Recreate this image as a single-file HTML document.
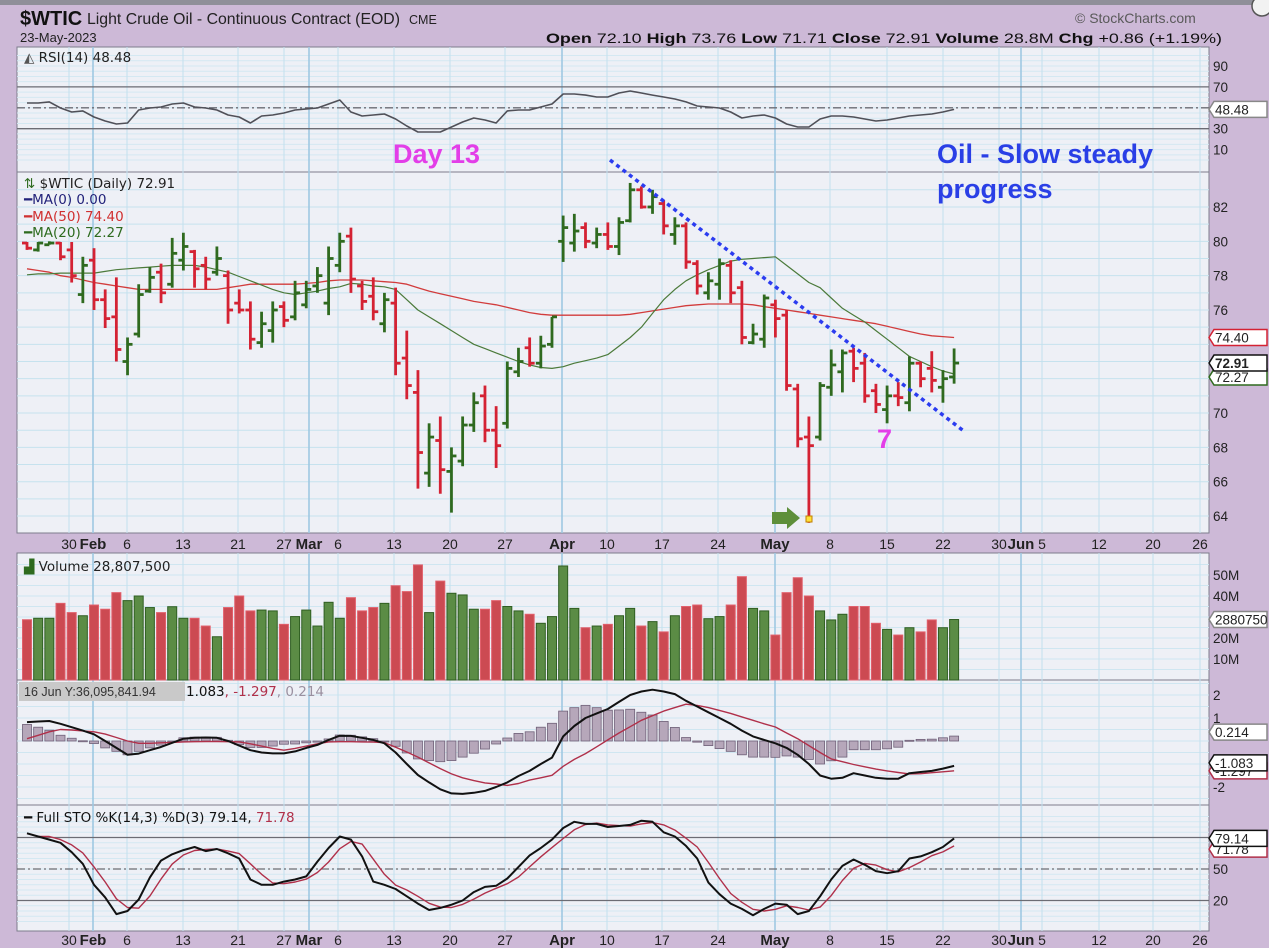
<!DOCTYPE html>
<html><head><meta charset="utf-8"><title>$WTIC chart</title>
<style>
html,body{margin:0;padding:0;background:#cdb9d7;}
svg{display:block;}
text{font-family:"Liberation Sans",sans-serif;}
.lg{font-family:"DejaVu Sans",sans-serif;font-size:13.5px;}
.ax{font-family:"Liberation Sans",sans-serif;font-size:13.5px;fill:#222;}
</style></head>
<body>
<svg id="chart" width="1269" height="948" viewBox="0 0 1269 948" xmlns="http://www.w3.org/2000/svg">
  <rect x="0" y="0" width="1269" height="948" fill="#cdb9d7"/>
  <rect x="0" y="0" width="1269" height="5" fill="#8f8f99"/>
  <circle cx="1262" cy="6" r="10" fill="#f2f2f2" stroke="#555" stroke-width="1.5"/>
  <rect x="17" y="47" width="1192" height="125" fill="#eef0f6" stroke="#7d7d8c"/>
  <rect x="17" y="172" width="1192" height="361" fill="#eef0f6" stroke="#7d7d8c"/>
  <rect x="17" y="553" width="1192" height="127" fill="#eef0f6" stroke="#7d7d8c"/>
  <rect x="17" y="680" width="1192" height="125" fill="#eef0f6" stroke="#7d7d8c"/>
  <rect x="17" y="805" width="1192" height="126" fill="#eef0f6" stroke="#7d7d8c"/>
  <g id="grid"></g>
  <g id="data"></g>
  <g id="axes"></g>

  <text x="20" y="25" font-size="20" font-weight="bold" fill="#111">$WTIC</text>
  <text x="87" y="24" font-size="15.5" fill="#222" textLength="313" lengthAdjust="spacingAndGlyphs">Light Crude Oil - Continuous Contract (EOD)</text>
  <text x="409" y="24" font-size="12.5" fill="#222">CME</text>
  <text x="20" y="42" font-size="13" fill="#222">23-May-2023</text>
  <text x="1075" y="23" font-size="14" fill="#5a5a5a">© StockCharts.com</text>
  <text x="546" y="43" font-size="14" fill="#111" textLength="676" lengthAdjust="spacingAndGlyphs"><tspan font-weight="bold">Open</tspan> 72.10  <tspan font-weight="bold">High</tspan> 73.76  <tspan font-weight="bold">Low</tspan> 71.71  <tspan font-weight="bold">Close</tspan> 72.91  <tspan font-weight="bold">Volume</tspan> 28.8M  <tspan font-weight="bold">Chg</tspan> +0.86 (+1.19%)</text>

  <text class="lg" x="24" y="62" fill="#222"><tspan fill="#555">◭</tspan> RSI(14) 48.48</text>
  <text class="lg" x="24" y="188" fill="#222"><tspan fill="#2e6b1f">⇅</tspan> $WTIC (Daily) 72.91</text>
  <text class="lg" x="24" y="204" fill="#22227a">━MA(0) 0.00</text>
  <text class="lg" x="24" y="221" fill="#d03030">━MA(50) 74.40</text>
  <text class="lg" x="24" y="237" fill="#2e6b1f">━MA(20) 72.27</text>
  <text class="lg" x="24" y="571" fill="#222"><tspan fill="#2e6b1f">▟</tspan> Volume 28,807,500</text>
  <rect x="19" y="682" width="166" height="19" fill="#c9c9c9"/>
  <text x="24" y="696" font-size="12.5" fill="#333">16 Jun Y:36,095,841.94</text>
  <text class="lg" x="186" y="696" fill="#111">1.083<tspan fill="#b0304a">, -1.297</tspan><tspan fill="#9a90a0">, 0.214</tspan></text>
  <text class="lg" x="24" y="822" fill="#111">━ Full STO %K(14,3) %D(3) 79.14, <tspan fill="#b0304a">71.78</tspan></text>

  <text x="393" y="163" font-size="27" font-weight="bold" fill="#e33ee8">Day 13</text>
  <text x="937" y="163" font-size="27" font-weight="bold" fill="#2a3fe6">Oil - Slow steady</text>
  <text x="937" y="198" font-size="27" font-weight="bold" fill="#2a3fe6">progress</text>
  <text x="877" y="448" font-size="27" font-weight="bold" fill="#e33ee8">7</text>
  <line x1="610" y1="160" x2="965" y2="432" stroke="#2b3cf0" stroke-width="3.5" stroke-dasharray="4 4"/>
  <polygon points="772,512 787,512 787,507 800,518 787,529 787,524 772,524" fill="#5e8f3a"/>
  <rect x="806" y="516" width="6" height="6" fill="#ffe03a" stroke="#c08000"/>
</svg>
<script>
const NS='http://www.w3.org/2000/svg';
const hi=[79.96,79.96,80.0,79.96,79.96,79.1,79.6,77.2,77.9,74.4,77.5,78.5,78.7,80.2,80.5,79.5,79.1,79.7,78.3,77.2,76.5,75.9,76.5,76.5,77.7,77.7,78.5,79.7,80.5,80.8,77.7,77.9,77.0,77.3,74.8,72.5,69.4,69.8,68.0,69.8,71.2,71.6,70.4,73.0,73.8,74.4,74.5,75.6,81.5,81.6,81.1,80.8,81.1,81.4,83.4,83.2,83.0,82.4,81.4,81.1,78.9,78.2,79.0,78.9,77.7,75.2,76.9,76.6,76.0,71.7,69.8,71.8,73.7,73.7,73.8,73.5,71.7,71.6,71.8,73.3,73.0,73.6,72.5,73.76];
const lo=[79.5,79.4,79.8,78.9,77.6,76.4,76.0,74.95,73.0,72.2,74.4,77.0,76.4,77.3,78.3,77.3,77.2,78.0,75.2,75.8,73.7,73.8,74.1,75.0,75.4,76.1,77.0,75.7,78.2,77.0,76.0,75.4,74.7,72.2,70.8,65.6,65.7,65.3,64.2,66.9,68.9,68.3,66.8,69.1,72.1,72.7,72.6,73.8,78.8,79.4,79.6,79.6,79.5,79.2,81.1,81.9,81.6,80.4,79.8,78.4,76.9,76.6,76.6,76.4,74.0,74.0,73.8,74.4,71.3,68.0,63.6,68.4,71.0,71.2,71.8,70.6,70.0,69.4,70.4,70.1,71.5,71.2,70.6,71.71];
const op=[79.9,79.5,79.8,79.9,79.5,76.9,78.9,76.6,75.6,73.0,74.6,77.1,78.2,77.5,78.9,79.4,78.6,78.2,78.0,76.4,76.0,74.1,74.8,76.2,75.6,76.3,77.4,76.4,78.6,80.3,77.4,76.8,75.2,76.4,73.2,71.2,66.5,68.4,66.6,67.2,69.3,71.0,69.0,69.4,72.4,73.8,72.9,74.0,80.0,79.9,80.8,79.9,80.4,79.7,81.2,83.0,82.0,82.2,80.4,80.9,78.7,77.0,77.5,78.6,77.3,74.1,74.3,76.3,75.7,71.4,68.6,68.6,71.5,72.4,73.6,72.9,71.3,70.2,71.0,70.6,72.9,72.6,71.5,72.10];
const cl=[79.6,79.9,79.9,79.1,78.0,78.6,76.6,75.5,73.7,74.0,76.9,77.9,77.0,79.3,79.7,78.4,77.8,79.0,76.0,76.0,74.3,75.2,76.0,75.4,77.0,77.2,78.0,79.0,80.0,77.8,76.5,75.9,76.6,72.9,71.6,67.7,68.6,66.7,67.5,69.3,70.6,69.0,68.1,72.6,73.0,72.9,73.9,75.6,80.8,80.6,80.0,80.4,79.7,81.1,83.0,82.0,82.6,80.9,80.9,78.8,77.4,77.7,78.7,77.0,74.4,74.6,76.7,75.5,71.6,68.5,68.1,71.6,72.8,73.5,72.6,71.0,70.5,71.0,70.9,72.9,72.0,71.9,72.0,72.91];
const ma50=[78.4,78.3,78.2,78.0,77.9,77.75,77.6,77.5,77.4,77.3,77.2,77.2,77.2,77.2,77.2,77.2,77.2,77.2,77.3,77.4,77.5,77.5,77.5,77.5,77.5,77.55,77.6,77.7,77.75,77.75,77.75,77.7,77.65,77.6,77.5,77.3,77.1,76.95,76.8,76.65,76.5,76.4,76.3,76.15,76.0,75.85,75.75,75.7,75.7,75.7,75.7,75.7,75.7,75.7,75.75,75.85,75.95,76.05,76.15,76.25,76.3,76.35,76.35,76.35,76.35,76.3,76.2,76.1,76.0,75.9,75.8,75.7,75.6,75.5,75.4,75.3,75.2,75.05,74.9,74.75,74.6,74.5,74.45,74.4];
const ma20=[78.05,78.1,78.1,78.15,78.15,78.15,78.15,78.25,78.35,78.4,78.45,78.5,78.55,78.6,78.6,78.6,78.5,78.35,78.2,77.95,77.7,77.45,77.2,77.0,76.9,77.0,77.1,77.25,77.35,77.55,77.5,77.4,77.35,77.2,76.6,76.0,75.6,75.2,74.8,74.4,74.0,73.75,73.5,73.25,73.0,72.8,72.65,72.6,72.7,72.9,73.05,73.2,73.4,73.9,74.4,75.0,75.8,76.6,77.2,77.7,78.05,78.35,78.6,78.85,78.95,79.0,79.05,79.1,78.6,78.1,77.6,77.3,76.7,76.1,75.7,75.3,74.8,74.3,73.8,73.3,73.0,72.7,72.45,72.27];
const vol=[28.7,29.4,29.4,36.5,32.1,30.6,35.7,33.7,41.6,37.8,40,34.5,32.1,34.9,29.4,29.4,25.7,20.6,34.5,40,32.9,33.3,32.9,26.5,30.2,33.3,25.7,37,29.4,39.2,32.9,34.5,36.5,44.9,42.1,54.8,32.1,47.1,41.3,40.5,33.7,33.7,37.8,35,32.9,31.3,27,30.2,54.3,34.1,24.9,25.7,26.5,30.6,34.1,25.7,27.8,22.9,30.6,35,35.7,29.2,30.2,35.7,49.2,34.1,32.9,21.4,41.6,48.7,40,32.9,28.6,31.3,35,35,27,24.1,21.4,24.9,22.9,28.6,24.9,28.8];
const rsi=[54.6,54.6,55.6,49.8,46,47,41.2,37.4,34.5,35.5,47.9,49.8,50.8,53.6,54.6,50.8,49.8,47.9,43.1,41.2,35.5,42.2,43.1,45,47.9,48.9,49.8,53.6,57.5,46,42.2,43.1,44.1,39.3,32.6,26.8,26.8,26.8,31.6,36.4,40.2,38.3,35.5,47,47.9,47.9,50.8,53.6,63.2,63.2,62.2,60.3,60.3,64.2,66.1,64.2,62.2,60.3,58.4,55.6,51.7,50.8,49.8,46,40.2,42.2,43.1,40.2,34.5,31.6,31.6,39.3,42.2,42.2,41.2,39.3,37.4,38.3,40.2,42.2,43.1,44.1,46,48.48];
const macd=[0.82,0.85,0.87,0.75,0.6,0.45,0.29,0.0,-0.3,-0.6,-0.55,-0.4,-0.26,-0.08,0.1,0.14,0.15,0.14,0.0,-0.2,-0.4,-0.5,-0.54,-0.54,-0.45,-0.3,-0.17,0.05,0.23,0.22,0.14,0.05,-0.1,-0.5,-1.0,-1.48,-1.8,-2.1,-2.28,-2.3,-2.25,-2.17,-2.0,-1.8,-1.52,-1.3,-1.0,-0.72,0.2,0.65,1.0,1.2,1.39,1.7,2.0,2.15,2.23,2.15,2.04,1.75,1.5,1.25,1.0,0.75,0.45,0.2,0.05,-0.1,-0.3,-0.6,-1.0,-1.5,-1.64,-1.6,-1.4,-1.5,-1.6,-1.64,-1.64,-1.4,-1.35,-1.3,-1.2,-1.083];
const signal=[0.1,0.25,0.4,0.5,0.48,0.44,0.4,0.3,0.15,0.0,-0.1,-0.1,-0.08,-0.06,-0.04,-0.03,-0.02,-0.02,-0.03,-0.04,-0.12,-0.22,-0.32,-0.4,-0.32,-0.22,-0.12,-0.04,-0.03,-0.03,-0.04,-0.05,-0.07,-0.27,-0.48,-0.7,-0.95,-1.2,-1.43,-1.6,-1.72,-1.82,-1.87,-1.93,-1.85,-1.7,-1.6,-1.49,-1.1,-0.8,-0.55,-0.25,0.05,0.35,0.62,0.9,1.1,1.3,1.45,1.6,1.55,1.45,1.33,1.2,1.05,0.9,0.75,0.61,0.35,0.1,-0.2,-0.5,-0.78,-0.9,-1.02,-1.12,-1.22,-1.3,-1.37,-1.43,-1.42,-1.38,-1.34,-1.297];
const stoK=[84,81,78,75,66,55,35,23,7,10,21,42,58,64,68,71,67,69,65,60,40,35,35,38,40,43,57,70,81,78,62,38,35,31,24,17,11,13,16,20,28,33,34,41,52,63,70,78,89,95,93,93,90,91,92,96,95,85,81,72,60,37,26,17,12,6,12,17,16,7,10,24,40,53,59,54,48,46,48,60,62,66,71,79.14];
const dateLabels=["30","Feb","6","13","21","27","Mar","6","13","20","27","Apr","10","17","24","May","8","15","22","30","Jun","5","12","20","26"];
const dateLabelX=[69,93,127,183,238,284,309,338,394,450,505,562,607,662,718,775,830,887,943,999,1021,1042,1099,1153,1200];
const monthLabels=["Feb","Mar","Apr","May","Jun"];
const priceTicks=[82,80,78,76,70,68,66,64];
const rsiTicks=[90,70,30,10];
const volTicks=[50,40,20,10];
const macdTicks=[2,1,-2];
const stoTicks=[50,20];

const X0=27, DX=11.17;
const xOf=i=>X0+i*DX;
const yP=p=>310-(p-76)*17.17;
const yR=v=>66+(90-v)*1.045;
const yV=m=>680-m*2.1;
const yM=v=>741-v*23;
const yS=v=>869-(v-50)*1.05;

function mk(tag,attrs,parent){const e=document.createElementNS(NS,tag);for(const k in attrs)e.setAttribute(k,attrs[k]);parent.appendChild(e);return e;}
const G=document.getElementById('grid'), D=document.getElementById('data'), A=document.getElementById('axes');
const panels=[[47,172],[172,533],[553,680],[680,805],[805,931]];

function hgrid(vals,fy,top,bot,col){vals.forEach(v=>{const y=fy(v);if(y<=top+1||y>=bot-1)return;
  const l=mk('line',{x1:17,x2:1209,y1:y,y2:y,stroke:col,'stroke-width':1},G);
  
  });}
const pg=[];for(let p=63;p<=84;p++)pg.push(p);
hgrid(pg,yP,172,533,'#c6e2ee');
const rg=[];for(let v=0;v<=100;v+=5)rg.push(v);
hgrid(rg,yR,47,172,'#d4e8f2');
const vg=[];for(let v=5;v<=60;v+=5)vg.push(v);
hgrid(vg,yV,553,680,'#cfe6f1');
const mg=[];for(let v=-2.5;v<=3;v+=0.5)mg.push(v);
hgrid(mg,yM,680,805,'#cfe6f1');
const sg=[];for(let v=0;v<=100;v+=5)sg.push(v);
hgrid(sg,yS,805,931,'#d4e8f2');

dateLabelX.forEach((x,k)=>{const isM=monthLabels.includes(dateLabels[k]);
  panels.forEach(([t,b])=>{const l=mk('line',{x1:x,x2:x,y1:t,y2:b,stroke:isM?'#9fc8e2':'#c3e0ee','stroke-width':isM?1.6:1},G);
    
    });
  [549,945].forEach(y=>{const t=mk('text',{x:x,y:y,'text-anchor':'middle','font-size':isM?15:14,'font-weight':isM?'bold':'normal',fill:'#222'},A);
    t.textContent=dateLabels[k];
    
    });
});

function refLine(y,dash,name){const l=mk('line',{x1:17,x2:1209,y1:y,y2:y,stroke:'#6c6c74','stroke-width':1.3},G);if(dash)l.setAttribute('stroke-dasharray','8 3 2 3');
  
  }
refLine(yR(70),false,'rsi-overbought-line');refLine(yR(30),false,'rsi-oversold-line');refLine(yR(50),true,'rsi-midline');
refLine(yS(80),false,'sto-overbought-line');refLine(yS(20),false,'sto-oversold-line');refLine(yS(50),true,'sto-midline');

function poly(arr,fy,col,w,name){const pts=arr.map((v,i)=>xOf(i).toFixed(1)+','+fy(v).toFixed(1)).join(' ');
  const p=mk('polyline',{points:pts,fill:'none',stroke:col,'stroke-width':w,'stroke-linejoin':'round'},D);
  
  return p;}

poly(rsi,yR,'#505058',1.6,'rsi-line');
poly(ma50,yP,'#d23c3c',1.3,'ma50-line');
poly(ma20,yP,'#4b7a3a',1.2,'ma20-line');

hi.forEach((h,i)=>{const x=xOf(i);const up=cl[i]>=op[i];const c=up?'#2f6a1f':'#d42233';
  const g=mk('g',{stroke:c,'stroke-width':2.8},D);
  
  
  mk('line',{x1:x,x2:x,y1:yP(h),y2:yP(lo[i])},g);
  mk('line',{x1:x-5,x2:x,y1:yP(op[i]),y2:yP(op[i])},g);
  mk('line',{x1:x,x2:x+5,y1:yP(cl[i]),y2:yP(cl[i])},g);
});

vol.forEach((v,i)=>{const up=cl[i]>=op[i];
  const r=mk('rect',{x:xOf(i)-4.5,y:yV(v),width:9,height:680-yV(v),fill:up?'#5b8c45':'#cc4a52',stroke:up?'#2f5e22':'#e2606c','stroke-width':1},D);
  
  });

macd.forEach((m,i)=>{const h=m-signal[i];const y0=yM(0),y1=yM(h);
  const r=mk('rect',{x:xOf(i)-4.5,y:Math.min(y0,y1),width:9,height:Math.max(1,Math.abs(y1-y0)),fill:'#b6a7ba',stroke:'#6f6078','stroke-width':0.8},D);
  
  });
poly(signal,yM,'#b0304a',1.4,'macd-signal-line');
poly(macd,yM,'#111',2,'macd-line');

const stoD=stoK.map((v,i)=>i<2?v:(stoK[i]+stoK[i-1]+stoK[i-2])/3);
poly(stoD,yS,'#b0304a',1.4,'sto-d-line');
poly(stoK,yS,'#111',2,'sto-k-line');

function axLabels(vals,fy,fmt,name){vals.forEach(v=>{const t=mk('text',{x:1213,y:fy(v)+5,class:'ax'},A);
  t.textContent=fmt(v);
  
  });}
axLabels(rsiTicks,yR,v=>v,'rsi-axis-label');
axLabels(priceTicks,yP,v=>v,'price-axis-label');
axLabels(volTicks,yV,v=>v+'M','volume-axis-label');
axLabels(macdTicks,yM,v=>v,'macd-axis-label');
axLabels(stoTicks,yS,v=>v,'sto-axis-label');

function valBox(y,txt,col,bold,name){const g=mk('g',{},A);
  
  
  mk('polygon',{points:`1209,${y} 1214,${y-8} 1267,${y-8} 1267,${y+8} 1214,${y+8}`,fill:'#fff',stroke:col,'stroke-width':1.5},g);
  const t=mk('text',{x:1215,y:y+5,class:'ax','font-weight':bold?'bold':'normal',fill:'#111'},g);t.textContent=txt;}
valBox(yR(48.48),'48.48','#888',false,'rsi-value-box');
valBox(yP(72.27)+3,'72.27','#2f6a1f',false,'ma20-value-box');
valBox(yP(74.40),'74.40','#d42233',false,'ma50-value-box');
valBox(yP(72.91),'72.91','#111',true,'close-value-box');
valBox(yV(28.8),'2880750','#888',false,'volume-value-box');
valBox(yM(-1.297),'-1.297','#b0304a',false,'signal-value-box');
valBox(yM(-1.083)-3,'-1.083','#111',false,'macd-value-box');
valBox(yM(0.214)-4,'0.214','#888',false,'histogram-value-box');
valBox(yS(71.78)+3,'71.78','#b0304a',false,'sto-d-value-box');
valBox(yS(79.14),'79.14','#111',false,'sto-k-value-box');
</script>
</body></html>
